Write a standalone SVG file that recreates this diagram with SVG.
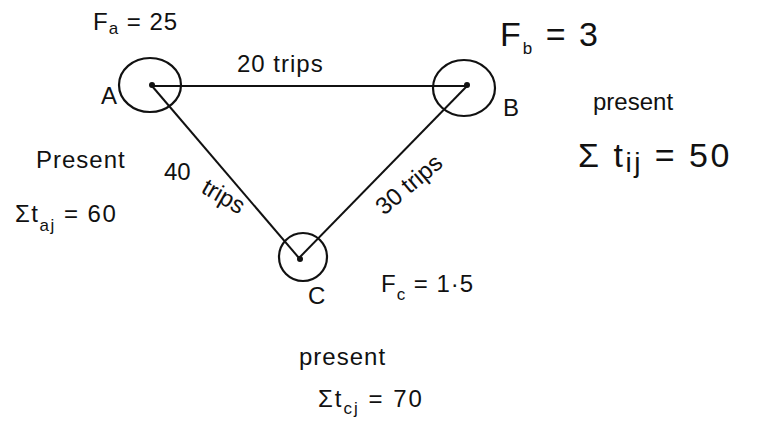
<svg xmlns="http://www.w3.org/2000/svg" width="765" height="432" viewBox="0 0 765 432">
<style>
text{font-family:"Liberation Sans",Arial,sans-serif;fill:#111}
.n{fill:none;stroke:#111;stroke-width:2.2}
.e{stroke:#111;stroke-width:2;fill:none}
.lbl{font-size:24px}
.big{font-size:34px}
.sub{font-size:17px}
</style>
<rect width="765" height="432" fill="#fff"/>
<g id="connectors">
<line class="e" x1="152" y1="86" x2="467" y2="86"/>
<line class="e" x1="152" y1="86" x2="299" y2="258"/>
<line class="e" x1="299" y1="258" x2="467" y2="86"/>
</g>
<g id="node-A">
<ellipse class="n" cx="150" cy="85" rx="31" ry="27"/>
<circle cx="152" cy="85" r="3" fill="#111"/>
<text class="lbl" x="101" y="104" font-size="26">A</text>
<text class="lbl" x="93" y="30" font-size="27" letter-spacing="1">F<tspan class="sub" dy="4">a</tspan><tspan dy="-4"> = 25</tspan></text>
<text class="lbl" x="36" y="168" font-size="26" letter-spacing="1">Present</text>
<text class="lbl" x="15" y="222" font-size="27" letter-spacing="1.5">Σt<tspan class="sub" dy="9">aj</tspan><tspan dy="-9"> = 60</tspan></text>
</g>
<g id="node-B">
<ellipse class="n" cx="464" cy="88" rx="31" ry="28"/>
<circle cx="467" cy="85" r="3" fill="#111"/>
<text class="lbl" x="503" y="116" font-size="28">B</text>
<text class="big" x="500" y="46" letter-spacing="2">F<tspan class="sub" dy="8" font-size="20">b</tspan><tspan dy="-8"> = 3</tspan></text>
<text class="lbl" x="593" y="110" font-size="28">present</text>
<text class="big" x="578" y="167" font-size="40" letter-spacing="2.5">Σ t<tspan font-size="28" dy="5">ij</tspan><tspan dy="-5"> = 50</tspan></text>
</g>
<g id="node-C">
<ellipse class="n" cx="303" cy="257" rx="24" ry="24"/>
<circle cx="300" cy="259" r="3" fill="#111"/>
<text class="lbl" x="308" y="304" font-size="26">C</text>
<text class="lbl" x="381" y="292" font-size="28" letter-spacing="1">F<tspan class="sub" dy="8">c</tspan><tspan dy="-8"> = 1·5</tspan></text>
<text class="lbl" x="299" y="365" font-size="26" letter-spacing="1">present</text>
<text class="lbl" x="318" y="407" font-size="32" letter-spacing="2">Σt<tspan class="sub" font-size="21" dy="7">cj</tspan><tspan dy="-7"> = 70</tspan></text>
</g>
<g id="edge-labels">
<text class="lbl" x="237" y="72" font-size="22" letter-spacing="1">20 trips</text>
<text class="lbl" x="164" y="180" font-size="24">40</text>
<text class="lbl" font-size="20" transform="translate(200 192) rotate(30)">trips</text>
<text class="lbl" font-size="21" transform="translate(384 216) rotate(-40)">30 trips</text>
</g>
</svg>
